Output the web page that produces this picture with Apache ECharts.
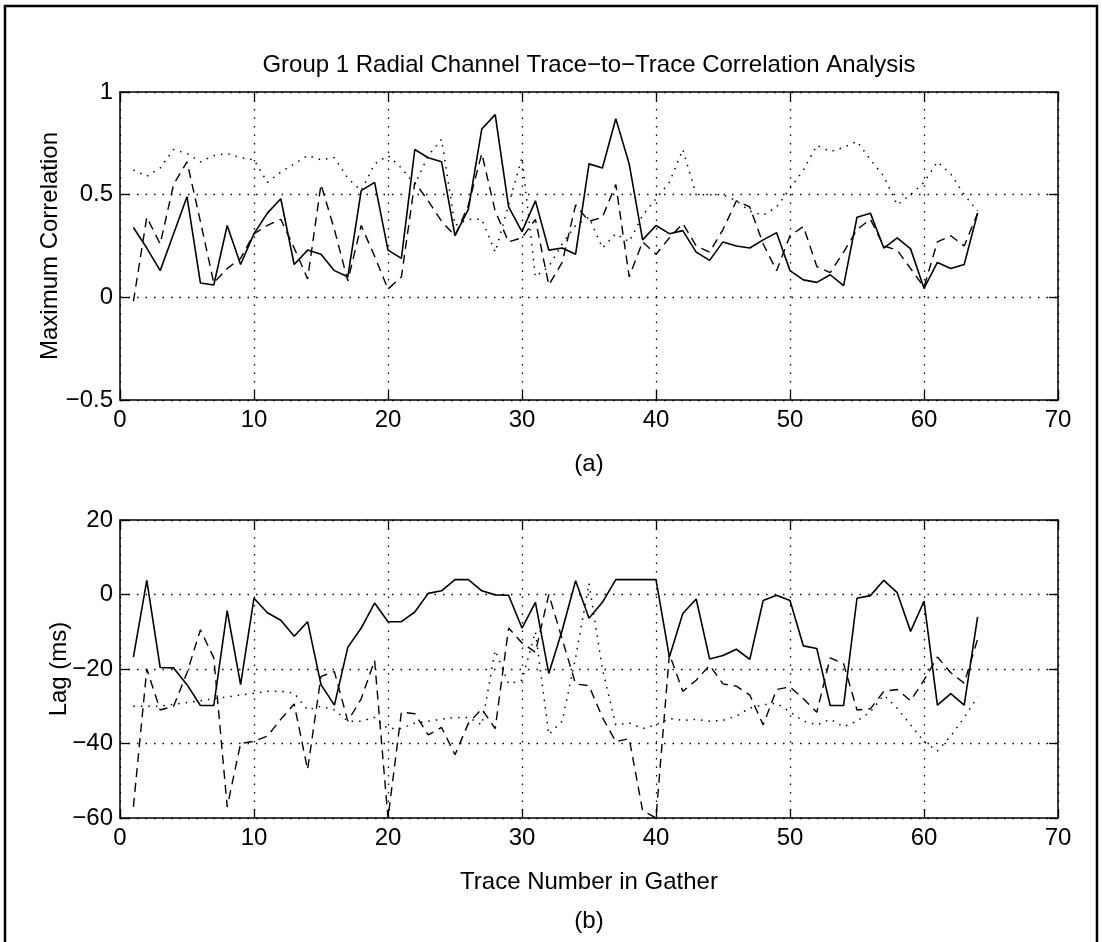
<!DOCTYPE html>
<html>
<head>
<meta charset="utf-8">
<script src="https://cdn.jsdelivr.net/npm/echarts@6/dist/echarts.min.js"></script>
<style>
html, body { margin: 0; padding: 0; background: #fff; }
#chart { width: 1102px; height: 942px; }
</style>
</head>
<body>
<div id="chart"></div>
<script>
// trace numbers in the gather (x values)
var traceNo = [1,2,3,4,5,6,7,8,9,10,11,12,13,14,15,16,17,18,19,20,21,22,23,24,25,26,27,28,29,30,31,32,
               33,34,35,36,37,38,39,40,41,42,43,44,45,46,47,48,49,50,51,52,53,54,55,56,57,58,59,60,61,62,63,64];

// (a) maximum correlation
var corrSolid = [0.34,0.24,0.13,0.31,0.49,0.07,0.06,0.35,0.16,0.31,0.41,0.48,0.16,0.23,0.21,0.13,0.10,0.52,0.56,0.23,0.19,0.72,0.68,0.66,0.30,0.43,0.82,0.89,0.44,0.32,0.47,0.23,
                 0.24,0.21,0.65,0.63,0.87,0.65,0.28,0.35,0.31,0.325,0.22,0.18,0.27,0.25,0.24,0.28,0.315,0.13,0.085,0.073,0.11,0.057,0.39,0.41,0.24,0.29,0.236,0.044,0.17,0.14,0.16,0.41];
var corrDash = [-0.02,0.39,0.26,0.55,0.66,0.37,0.07,0.14,0.19,0.31,0.35,0.38,0.24,0.09,0.55,0.33,0.08,0.35,0.20,0.04,0.10,0.56,0.47,0.37,0.30,0.45,0.70,0.42,0.27,0.29,0.38,0.06,
                0.17,0.45,0.37,0.39,0.55,0.10,0.27,0.21,0.29,0.36,0.25,0.22,0.33,0.47,0.44,0.26,0.13,0.30,0.345,0.15,0.12,0.22,0.33,0.38,0.25,0.23,0.14,0.05,0.27,0.30,0.25,0.41];
var corrDot = [0.62,0.59,0.63,0.72,0.70,0.66,0.69,0.70,0.68,0.67,0.56,0.61,0.65,0.69,0.67,0.68,0.58,0.52,0.65,0.69,0.63,0.55,0.69,0.77,0.35,0.38,0.38,0.22,0.45,0.68,0.10,0.15,
               0.26,0.35,0.39,0.24,0.31,0.27,0.40,0.48,0.56,0.72,0.50,0.50,0.50,0.47,0.42,0.40,0.44,0.53,0.62,0.74,0.71,0.73,0.76,0.67,0.59,0.45,0.50,0.56,0.66,0.60,0.50,0.42];

// (b) lag in ms
var lagSolid = [-16.8,3.8,-19.6,-19.7,-24.2,-29.8,-29.8,-4.3,-24.2,-1,-4.9,-6.9,-11.2,-7.3,-24.2,-29.7,-14.2,-9,-2.3,-7.3,-7.3,-4.7,0.3,1,4,4,1,-0.1,-0.2,-9,-2.1,-21.2,
                -9.6,3.7,-6.4,-2.1,4,4,4,4,-16.8,-5.1,-1.2,-17.3,-16.4,-14.7,-17.4,-1.6,-0.2,-1.6,-13.8,-14.5,-29.8,-29.8,-1,-0.3,3.8,0.5,-9.9,-1.8,-29.7,-26.6,-29.7,-6];
var lagDash = [-57,-20,-31,-30,-21,-9.5,-17,-57,-40,-39.4,-38,-33.5,-29.4,-47,-22,-20.7,-34,-28,-17.7,-60,-31.6,-32,-37.7,-35.7,-43,-34.6,-30.7,-36,-9,-13,-15.5,0,
               -12,-24,-24.5,-33,-39.5,-38.7,-58,-60,-16,-26,-23,-19,-24,-24.6,-27,-35,-25.5,-24.8,-28,-31.6,-17,-18.6,-31,-30.7,-26,-25.5,-28.5,-23,-16.8,-21,-23.8,-12];
var lagDot = [-30,-30,-30,-29.5,-29,-28.5,-28,-27.5,-27,-26.5,-26,-26,-26.5,-31,-30,-31,-34,-34,-33,-36,-36,-34.5,-34,-33.5,-33,-33,-35,-15,-24,-23,-10,-37.6,
              -34,-17,3,-20,-35,-34.5,-36,-35,-33.3,-33.8,-33.5,-34,-33.8,-32.6,-30.5,-29.6,-29.2,-31.5,-34,-35,-33.5,-35.5,-34,-31.5,-27,-30.5,-35,-39.5,-42,-38,-33,-27.5];

function pairs(ys) {
    return traceNo.map(function (t, k) { return [t, ys[k]]; });
}

var font = 'Liberation Sans, Arial, Helvetica, sans-serif';
var fs = 24;
var black = '#000';
var gridDots = { color: black, width: 1.3, type: [1.5, 7] };
var minus = function (v) { return String(v).replace('-', '\u2212'); };

function mainX(grid, name) {
    return {
        gridIndex: grid, type: 'value', min: 0, max: 70, interval: 10, position: 'bottom',
        name: name, nameLocation: 'middle', nameGap: 45, nameMoveOverlap: false,
        nameTextStyle: { color: black, fontSize: fs, fontFamily: font, lineHeight: 39 },
        axisLine: { show: true, onZero: false, lineStyle: { color: black, width: 1.5 } },
        axisTick: { show: true, inside: true, length: 9, lineStyle: { color: black, width: 1.3 } },
        axisLabel: { color: black, fontSize: fs, fontFamily: font, margin: 8 },
        splitLine: { show: true, lineStyle: gridDots }
    };
}
function mirrorX(grid) {
    return {
        gridIndex: grid, type: 'value', min: 0, max: 70, interval: 10, position: 'top',
        axisLine: { show: true, onZero: false, lineStyle: { color: black, width: 1.5 } },
        axisTick: { show: true, inside: true, length: 9, lineStyle: { color: black, width: 1.3 } },
        axisLabel: { show: false }, splitLine: { show: false }
    };
}
function mainY(grid, lo, hi, step, name, gap) {
    return {
        gridIndex: grid, type: 'value', min: lo, max: hi, interval: step, position: 'left',
        name: name, nameLocation: 'middle', nameGap: gap, nameMoveOverlap: false,
        nameTextStyle: { color: black, fontSize: fs, fontFamily: font },
        axisLine: { show: true, onZero: false, lineStyle: { color: black, width: 1.5 } },
        axisTick: { show: true, inside: true, length: 9, lineStyle: { color: black, width: 1.3 } },
        axisLabel: { color: black, fontSize: fs, fontFamily: font, margin: 7, formatter: minus },
        splitLine: { show: true, lineStyle: gridDots }
    };
}
function mirrorY(grid, lo, hi, step) {
    return {
        gridIndex: grid, type: 'value', min: lo, max: hi, interval: step, position: 'right',
        axisLine: { show: true, onZero: false, lineStyle: { color: black, width: 1.5 } },
        axisTick: { show: true, inside: true, length: 9, lineStyle: { color: black, width: 1.3 } },
        axisLabel: { show: false }, splitLine: { show: false }
    };
}
function trace(name, ys, xi, yi, dash, w) {
    return {
        name: name, type: 'line', xAxisIndex: xi, yAxisIndex: yi,
        data: pairs(ys), symbol: 'none', silent: true,
        lineStyle: { color: black, width: w, type: dash }
    };
}

var chart = echarts.init(document.getElementById('chart'));
var option = {
    backgroundColor: '#fff',
    animation: false,
    title: {
        text: 'Group 1 Radial Channel Trace\u2212to\u2212Trace Correlation Analysis',
        left: 589, top: 53, padding: 0, textAlign: 'center',
        textStyle: { color: black, fontSize: fs, fontWeight: 'normal', fontFamily: font }
    },
    graphic: [{
        type: 'rect', silent: true,
        shape: { x: 5, y: 6, width: 1092, height: 960 },
        style: { fill: 'none', stroke: black, lineWidth: 2.5 }
    }],
    grid: [
        { left: 120, top: 92, width: 938, height: 308 },
        { left: 120, top: 520, width: 938, height: 308 }
    ],
    xAxis: [mainX(0, '(a)'), mirrorX(0), mainX(1, 'Trace Number in Gather\n(b)'), mirrorX(1)],
    yAxis: [mainY(0, -0.5, 1, 0.5, 'Maximum Correlation', 58), mirrorY(0, -0.5, 1, 0.5),
            mainY(1, -60, 20, 20, 'Lag (ms)', 49), mirrorY(1, -60, 20, 20)],
    series: [
        trace('corr solid', corrSolid, 0, 0, 'solid', 1.6),
        trace('corr dashed', corrDash, 0, 0, [9, 6], 1.4),
        trace('corr dotted', corrDot, 0, 0, [1.5, 6], 1.5),
        trace('lag solid', lagSolid, 2, 2, 'solid', 1.6),
        trace('lag dashed', lagDash, 2, 2, [9, 6], 1.4),
        trace('lag dotted', lagDot, 2, 2, [1.5, 6], 1.5)
    ]
};
chart.setOption(option);
</script>
</body>
</html>
